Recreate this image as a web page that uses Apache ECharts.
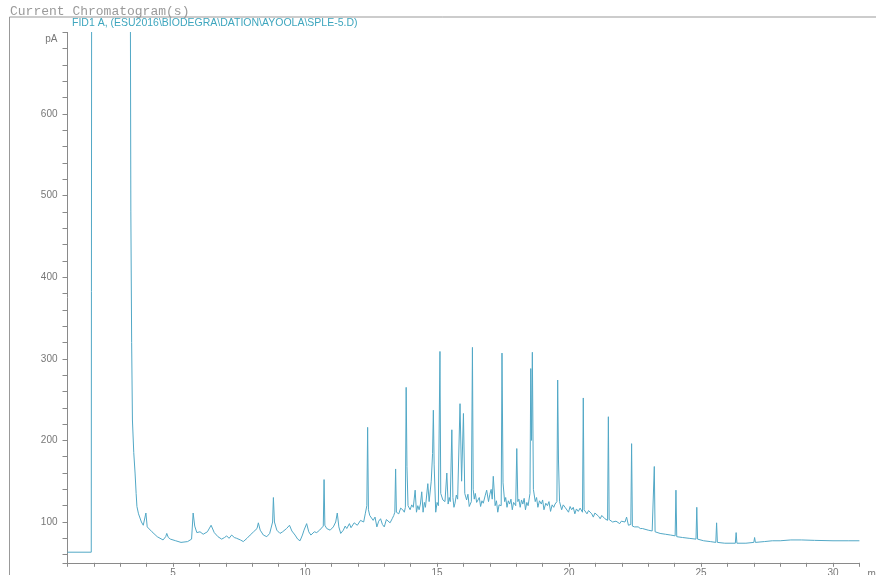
<!DOCTYPE html>
<html><head><meta charset="utf-8">
<script src="https://cdn.jsdelivr.net/npm/echarts@6/dist/echarts.min.js"></script>
<style>html,body{margin:0;padding:0;background:#fff}#c{width:876px;height:575px}</style>
</head><body><div id="c"></div>
<script>
const headerTitle = 'Current Chromatogram(s)';
const signalName = 'FID1 A, (ESU2016\\BIODEGRA\\DATION\\AYOOLA\\SPLE-5.D)';
const xTickLabels = [5, 10, 15, 20, 25, 30];
const yTickLabels = [100, 200, 300, 400, 500, 600];
const yUnit = 'pA';
const xUnit = 'min';

const times = [
 1.00,1.90,1.93,3.36,3.37,3.40,3.43,3.46,3.51,3.56,
 3.60,3.63,3.69,3.80,3.87,3.97,4.02,4.20,4.40,4.62,
 4.72,4.76,4.82,4.90,5.10,5.30,5.55,5.70,5.76,5.82,
 5.90,6.02,6.14,6.30,6.44,6.56,6.70,6.84,6.95,7.03,
 7.12,7.22,7.32,7.41,7.55,7.66,7.80,7.92,8.05,8.11,
 8.18,8.23,8.30,8.42,8.55,8.66,8.77,8.80,8.84,8.93,
 9.05,9.15,9.30,9.41,9.50,9.62,9.72,9.81,9.90,9.96,
 10.06,10.14,10.22,10.35,10.44,10.55,10.62,10.69,10.72,10.75,
 10.82,10.95,11.07,11.16,11.22,11.28,11.35,11.45,11.52,11.58,
 11.68,11.74,11.80,11.86,11.92,11.98,12.05,12.10,12.16,12.22,
 12.28,12.34,12.37,12.40,12.45,12.52,12.58,12.65,12.72,12.79,
 12.86,12.93,13.00,13.08,13.15,13.22,13.30,13.36,13.40,13.43,
 13.46,13.55,13.62,13.70,13.76,13.80,13.83,13.86,13.90,13.98,
 14.04,14.10,14.17,14.22,14.27,14.32,14.37,14.42,14.47,14.52,
 14.56,14.65,14.70,14.78,14.83,14.86,14.89,14.95,15.00,15.05,
 15.11,15.14,15.22,15.30,15.37,15.42,15.46,15.50,15.56,15.60,
 15.64,15.68,15.73,15.78,15.87,15.93,16.00,16.05,16.12,16.17,
 16.22,16.30,16.34,16.37,16.41,16.45,16.50,16.55,16.60,16.65,
 16.70,16.75,16.82,16.88,16.95,17.00,17.05,17.09,17.13,17.20,
 17.25,17.30,17.35,17.43,17.46,17.50,17.56,17.60,17.65,17.70,
 17.75,17.80,17.85,17.90,17.98,18.02,18.06,18.10,18.15,18.20,
 18.25,18.30,18.35,18.40,18.45,18.52,18.55,18.58,18.61,18.65,
 18.72,18.77,18.82,18.88,18.95,19.00,19.05,19.12,19.18,19.24,
 19.30,19.36,19.42,19.47,19.54,19.57,19.60,19.64,19.72,19.78,
 19.85,19.92,19.98,20.04,20.10,20.16,20.22,20.28,20.35,20.42,
 20.51,20.54,20.57,20.63,20.68,20.74,20.80,20.86,20.92,20.98,
 21.05,21.12,21.18,21.24,21.30,21.36,21.46,21.49,21.52,21.59,
 21.65,21.72,21.78,21.85,21.92,21.98,22.05,22.12,22.18,22.25,
 22.34,22.37,22.40,22.48,22.55,22.62,22.70,22.78,22.85,23.00,
 23.15,23.23,23.26,23.45,23.65,23.85,24.02,24.05,24.08,24.30,
 24.55,24.81,24.84,24.87,25.10,25.35,25.56,25.59,25.62,25.90,
 26.30,26.33,26.36,26.70,27.00,27.03,27.06,27.40,27.70,28.00,
 28.40,28.80,29.30,30.00,30.60,31.00
];
const signal = [
 63,63,1500,1500,900,480,320,225,185,160,
 135,119,110,100,96,111,94,88,82,78,
 82,86,81,79,77,75,76,79,111,95,
 87,88,85,88,96,87,82,79,81,83,
 80,84,81,80,78,76,80,84,88,89,
 92,99,90,84,82,86,100,130,100,90,
 86,88,92,96,89,84,79,77,84,90,
 98,88,84,88,87,90,88,95,152,96,
 92,90,94,100,111,94,86,90,95,92,
 98,93,94,99,100,96,98,102,104,100,
 110,120,216,115,108,110,102,106,94,101,
 104,97,94,103,102,99,104,108,112,165,
 112,110,117,115,112,118,265,168,120,115,
 121,118,139,112,120,115,122,137,112,124,
 118,147,125,150,184,237,170,112,124,120,
 309,135,127,125,160,122,130,125,213,130,
 118,123,133,128,245,150,233,135,127,134,
 119,125,314,140,128,135,124,122,130,119,
 126,123,132,139,125,134,140,128,156,120,
 126,112,121,120,307,148,125,130,118,126,
 122,128,115,124,120,190,125,128,118,127,
 122,129,115,124,120,135,288,200,308,140,
 125,130,118,126,122,127,115,123,120,125,
 113,121,118,122,125,274,176,125,115,121,
 118,116,112,119,115,118,110,116,113,117,
 112,252,115,117,110,114,112,110,106,111,
 109,107,104,108,106,104,102,229,103,104,
 100,102,101,99,98,101,99,100,106,96,
 97,196,95,94,93,94,92,92,91,90,
 89,168,88,86,85,84,83,139,82,81,
 80,79,118,79,77,76,75,99,75,74,
 74,87,74,74,75,81,75,76,77,77,
 78,78,77.5,77,77,77
];

const data = times.map((t, i) => [t, signal[i]]);
const chart = echarts.init(document.getElementById('c'), null, {renderer: 'canvas'});
const axisGrey = '#8a8a8a';
const labelGrey = '#777';

chart.setOption({
  animation: false,
  backgroundColor: '#fff',
  grid: {left: 67.5, right: 16.6, top: 32.4, bottom: 12.2, containLabel: false, outerBoundsMode: 'none'},
  xAxis: {
    type: 'value', min: 1, max: 31, interval: 1,
    name: xUnit, nameLocation: 'end', nameGap: 8,
    nameTextStyle: {color: labelGrey, fontSize: 10, fontFamily: 'Liberation Sans', align: 'left', verticalAlign: 'top', padding: [6, 0, 0, 0]},
    axisLine: {show: true, onZero: false, lineStyle: {color: axisGrey, width: 1}},
    axisTick: {show: true, inside: false, length: 4, lineStyle: {color: axisGrey}},
    axisLabel: {
      margin: 5, color: labelGrey, fontSize: 10, fontFamily: 'Liberation Sans',
      formatter: v => xTickLabels.includes(v) ? String(v) : ''
    },
    splitLine: {show: false}
  },
  yAxis: {
    type: 'value', min: 50, max: 700, splitNumber: 33,
    axisLine: {show: true, onZero: false, lineStyle: {color: axisGrey, width: 1}},
    axisTick: {show: true, inside: false, length: 5, lineStyle: {color: axisGrey}},
    axisLabel: {
      margin: 10, color: labelGrey, fontSize: 10, fontFamily: 'Liberation Sans', showMinLabel: true, showMaxLabel: true,
      formatter: v => v === 700 ? '{u|' + yUnit + '}' : (yTickLabels.includes(v) ? String(v) : ''),
      rich: {u: {color: labelGrey, fontSize: 10, fontFamily: 'Liberation Sans', padding: [14, 0, 0, 0]}}
    },
    splitLine: {show: false}
  },
  graphic: [
    {type: 'polyline', silent: true, shape: {points: [[9.5, 575], [9.5, 17], [876, 17]]}, style: {stroke: '#999', lineWidth: 1, fill: null}},
    {type: 'text', left: 10, top: 5, silent: true, style: {text: headerTitle, fill: '#9a9a9a', font: '13px "Liberation Mono"'}},
    {type: 'text', left: 72, top: 18, silent: true, style: {text: signalName, fill: '#3ea6be', font: '10.5px "Liberation Sans"'}}
  ],
  series: [{
    type: 'line', data: data, showSymbol: false, symbol: 'none', clip: true,
    lineStyle: {color: '#52a8c6', width: 1},
    emphasis: {disabled: true}
  }]
});
</script></body></html>
